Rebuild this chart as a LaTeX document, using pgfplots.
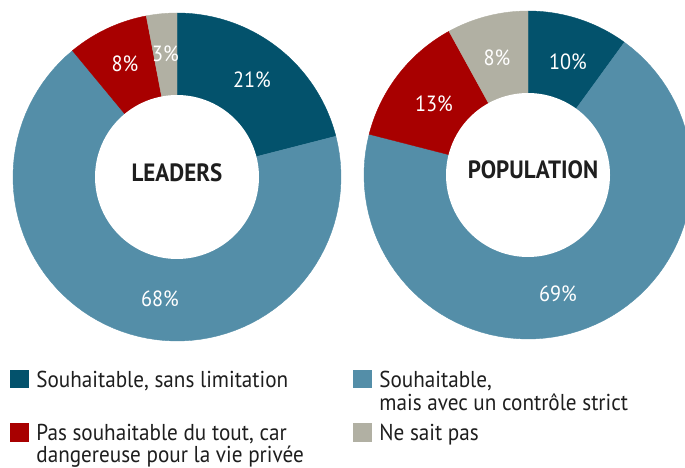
\documentclass[border=0pt]{standalone}
\usepackage{pgfplots}
\pgfplotsset{compat=1.18}
\usepackage{fontspec}
\setmainfont{PT Sans}
\newfontfamily\lfont[FakeStretch=0.92]{PT Sans}
\definecolor{cdark}{HTML}{03526C}
\definecolor{clight}{HTML}{548EA8}
\definecolor{cred}{HTML}{A80000}
\definecolor{cgray}{HTML}{B1B0A3}
\definecolor{ctext}{HTML}{1E1E1E}
% slice: cx, cy, start (percent), value (percent), colour
\newcommand{\slice}[5]{%
  \addplot[fill=#5, draw=#5, line width=0.2pt, domain={90-3.6*(#3+#4)}:{90-3.6*(#3)}, samples=80, variable=\t]
    ({#1+164*cos(\t)},{#2+164*sin(\t)}) -- (axis cs:#1,#2) -- cycle;}
\newcommand{\hole}[2]{%
  \addplot[fill=white, draw=none, domain=0:360, samples=120, variable=\t]
    ({#1+82*cos(\t)},{#2+82*sin(\t)}) -- cycle;}
\begin{document}
\begin{tikzpicture}
\useasboundingbox (0,0) rectangle (342.5pt,233.5pt);
\begin{axis}[
  at={(0,0)}, anchor=south west,
  width=342.5pt, height=233.5pt, scale only axis,
  xmin=0, xmax=685, ymin=0, ymax=467,
  hide axis, clip=true,
]
% LEADERS: 21, 68, 8, 3
\slice{177}{290}{0}{21}{cdark}
\slice{177}{290}{21}{68}{clight}
\slice{177}{290}{89}{8}{cred}
\slice{177}{290}{97}{3}{cgray}
\hole{177}{290}
% POPULATION: 10, 69, 13, 8
\slice{528}{292}{0}{10}{cdark}
\slice{528}{292}{10}{69}{clight}
\slice{528}{292}{79}{13}{cred}
\slice{528}{292}{92}{8}{cgray}
\hole{528}{292}
% labels
\begin{scope}[every node/.style={font=\lfont\fontsize{11pt}{12pt}\selectfont, text=white, inner sep=0pt}]
\node at (axis cs:252,387) {21\%};
\node at (axis cs:125,403) {8\%};
\node at (axis cs:165.5,413) {3\%};
\node at (axis cs:160,168) {68\%};
\node at (axis cs:568,405) {10\%};
\node at (axis cs:497,409) {8\%};
\node at (axis cs:434,363) {13\%};
\node at (axis cs:558,173) {69\%};
\end{scope}
\node[font=\lfont\bfseries\fontsize{12.5pt}{14pt}\selectfont, text=ctext, inner sep=0pt] at (axis cs:177,294.5) {LEADERS};
\node[font=\lfont\bfseries\fontsize{12.5pt}{14pt}\selectfont, text=ctext, inner sep=0pt] at (axis cs:533,297) {POPULATION};
% legend
\fill[cdark] (axis cs:10,79) rectangle (axis cs:29,97);
\fill[clight] (axis cs:353,79) rectangle (axis cs:372,97);
\fill[cred] (axis cs:10,25) rectangle (axis cs:29,44);
\fill[cgray] (axis cs:353,25) rectangle (axis cs:372,44);
\begin{scope}[every node/.style={font=\lfont\fontsize{11.5pt}{13pt}\selectfont, text=ctext, inner sep=0pt, anchor=base west}]
\node at (axis cs:36,80) {Souhaitable, sans limitation};
\node at (axis cs:379,80) {Souhaitable,};
\node at (axis cs:379,57) {mais avec un contrôle strict};
\node at (axis cs:36,27) {Pas souhaitable du tout, car};
\node at (axis cs:36,5) {dangereuse pour la vie privée};
\node at (axis cs:379,27) {Ne sait pas};
\end{scope}
\end{axis}
\end{tikzpicture}
\end{document}
